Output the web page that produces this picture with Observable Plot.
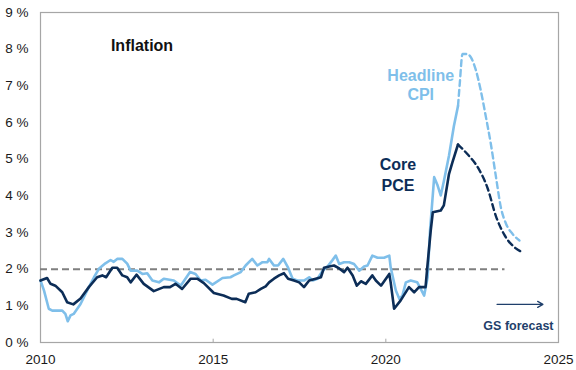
<!DOCTYPE html>
<html>
<head>
<meta charset="utf-8">
<script src="https://cdn.jsdelivr.net/npm/d3@7"></script>
<script src="https://cdn.jsdelivr.net/npm/@observablehq/plot@0.6"></script>
<style>
  html, body { margin: 0; padding: 0; background: #fff; }
  #chart { width: 576px; height: 370px; }
</style>
</head>
<body>
<div id="chart"></div>
<script>
// ---- Data (decimal years, % y/y) ----
const pceYears = [2010.00,2010.19,2010.29,2010.43,2010.63,2010.77,2010.95,2011.16,2011.40,2011.64,2011.79,2011.90,2012.08,2012.22,2012.37,2012.51,2012.61,2012.78,2012.99,2013.28,2013.57,2013.75,2013.91,2014.10,2014.35,2014.54,2014.73,2015.02,2015.30,2015.54,2015.68,2015.93,2016.03,2016.23,2016.38,2016.52,2016.62,2016.76,2016.91,2017.05,2017.17,2017.34,2017.49,2017.63,2017.78,2017.97,2018.12,2018.21,2018.36,2018.50,2018.65,2018.79,2018.89,2019.04,2019.16,2019.28,2019.42,2019.61,2019.71,2019.86,2020.10,2020.14,2020.24,2020.43,2020.67,2020.82,2020.96,2021.15,2021.20,2021.30,2021.36,2021.59,2021.68,2021.83,2021.93,2022.09];
const pceValues = [1.69,1.76,1.60,1.55,1.37,1.10,1.04,1.20,1.51,1.78,1.83,1.78,2.04,2.04,1.83,1.78,1.64,1.85,1.60,1.40,1.51,1.51,1.60,1.46,1.74,1.74,1.62,1.35,1.28,1.19,1.19,1.10,1.33,1.37,1.46,1.53,1.64,1.74,1.83,1.89,1.74,1.69,1.64,1.51,1.69,1.74,1.78,2.04,2.07,2.10,2.02,1.92,2.04,1.83,1.55,1.67,1.60,1.83,1.69,1.55,1.87,1.64,0.92,1.15,1.51,1.37,1.51,1.51,2.05,3.05,3.55,3.60,3.74,4.60,4.92,5.40];
const pceFcYears = [2022.09,2022.36,2022.66,2022.95,2023.19,2023.43,2023.72,2023.96];
const pceFcValues = [5.40,5.14,4.78,4.20,3.44,2.94,2.60,2.46];

const cpiYears = [2010.00,2010.10,2010.24,2010.34,2010.63,2010.72,2010.79,2010.87,2010.96,2011.16,2011.40,2011.55,2011.69,2011.88,2012.03,2012.12,2012.22,2012.37,2012.51,2012.61,2012.80,2012.95,2013.09,2013.24,2013.43,2013.57,2013.86,2014.06,2014.33,2014.49,2014.64,2014.78,2014.98,2015.27,2015.50,2015.60,2015.80,2015.94,2016.13,2016.28,2016.43,2016.57,2016.62,2016.76,2016.88,2017.03,2017.17,2017.30,2017.44,2017.63,2017.78,2017.88,2018.02,2018.17,2018.31,2018.45,2018.55,2018.65,2018.79,2018.94,2019.08,2019.23,2019.37,2019.47,2019.61,2019.76,2019.95,2020.10,2020.14,2020.29,2020.39,2020.48,2020.58,2020.72,2020.91,2021.01,2021.11,2021.21,2021.28,2021.40,2021.50,2021.59,2021.68,2021.83,2021.97,2022.09];
const cpiValues = [1.69,1.42,0.92,0.87,0.87,0.78,0.58,0.74,0.78,1.05,1.51,1.78,2.01,2.16,2.25,2.20,2.28,2.28,2.15,1.96,1.96,1.87,1.89,1.69,1.64,1.74,1.69,1.55,1.92,1.87,1.69,1.71,1.58,1.76,1.78,1.83,1.92,2.10,2.28,2.10,2.19,2.19,2.28,2.10,2.10,2.28,2.04,1.74,1.69,1.69,1.78,1.69,1.74,1.96,2.07,2.24,2.37,2.14,2.19,2.19,2.14,1.96,2.07,2.10,2.37,2.31,2.31,2.37,2.05,1.42,1.19,1.28,1.64,1.69,1.64,1.46,1.28,1.78,3.05,4.51,4.28,4.01,4.40,5.10,5.90,6.45];
const cpiFcYears = [2022.09,2022.14,2022.22,2022.36,2022.46,2022.61,2022.75,2022.90,2023.04,2023.19,2023.33,2023.48,2023.67,2023.87];
const cpiFcValues = [6.45,7.05,7.87,7.87,7.78,7.42,6.87,6.14,5.42,4.51,3.69,3.24,2.96,2.78];

const targetLevel = 2;
const targetSpan = [2010, 2023.45];

const xTicks = [2010, 2015, 2020, 2025];
const yTicks = [0, 1, 2, 3, 4, 5, 6, 7, 8, 9];

const labelTexts = ["Inflation", "Headline\nCPI", "Core\nPCE", "GS forecast"];
const labelYears = [2012.94, 2021.01, 2020.35, 2023.84];
const labelValues = [8.1, 7.05, 4.6, 0.46];

const arrowYears = [2023.22, 2024.55];
const arrowValue = 1.04;

// ---- Build tables ----
const pce = pceYears.map((x, i) => ({x, y: pceValues[i]}));
const pceFc = pceFcYears.map((x, i) => ({x, y: pceFcValues[i]}));
const cpi = cpiYears.map((x, i) => ({x, y: cpiValues[i]}));
const cpiFc = cpiFcYears.map((x, i) => ({x, y: cpiFcValues[i]}));
const labels = labelTexts.map((t, i) => ({t, x: labelYears[i], y: labelValues[i]}));

const NAVY = "#0c2d57";
const LIGHT = "#7fbfea";
const GRAY = "#a6a6a6";

const chart = Plot.plot({
  width: 576,
  height: 370,
  marginLeft: 40,
  marginRight: 18,
  marginTop: 12,
  marginBottom: 28,
  style: {fontFamily: "'Liberation Sans', Arial, sans-serif", fontSize: "13.5px", color: "#1a1a1a", background: "#fff"},
  x: {domain: [2010, 2025], ticks: xTicks, tickFormat: "d", tickSize: 0, tickPadding: 12, label: null},
  y: {domain: [0, 9], ticks: yTicks, tickFormat: d => d + " %", tickSize: 0, tickPadding: 12, label: null},
  marks: [
    Plot.frame({stroke: GRAY, strokeWidth: 1.2}),
    Plot.ruleX(xTicks.slice(1), {y1: 0, y2: 0.09, stroke: GRAY}),
    Plot.ruleY([targetLevel], {x1: targetSpan[0], x2: targetSpan[1], stroke: "#7f7f7f", strokeWidth: 2, strokeDasharray: "7,4"}),
    Plot.line(cpi, {x: "x", y: "y", stroke: LIGHT, strokeWidth: 2.6}),
    Plot.line(cpiFc, {x: "x", y: "y", stroke: LIGHT, strokeWidth: 2.4, strokeDasharray: "6,4", curve: "monotone-x"}),
    Plot.line(pce, {x: "x", y: "y", stroke: NAVY, strokeWidth: 2.6}),
    Plot.line(pceFc, {x: "x", y: "y", stroke: NAVY, strokeWidth: 2.4, strokeDasharray: "6,4", curve: "monotone-x"}),
    Plot.arrow([{x1: arrowYears[0], x2: arrowYears[1], y: arrowValue}], {x1: "x1", x2: "x2", y1: "y", y2: "y", stroke: "#1f3f6b", strokeWidth: 1.3, headLength: 7, bend: 0}),
    Plot.text(labels.slice(0, 1), {x: "x", y: "y", text: "t", fontSize: 16, fontWeight: "bold", fill: "#111"}),
    Plot.text(labels.slice(1, 2), {x: "x", y: "y", text: "t", fontSize: 16, fontWeight: "bold", fill: LIGHT, lineHeight: 1.2}),
    Plot.text(labels.slice(2, 3), {x: "x", y: "y", text: "t", fontSize: 16, fontWeight: "bold", fill: NAVY, lineHeight: 1.3}),
    Plot.text(labels.slice(3, 4), {x: "x", y: "y", text: "t", fontSize: 12.5, fontWeight: "bold", fill: "#1f3f6b"})
  ]
});
document.getElementById("chart").appendChild(chart);
</script>
</body>
</html>
